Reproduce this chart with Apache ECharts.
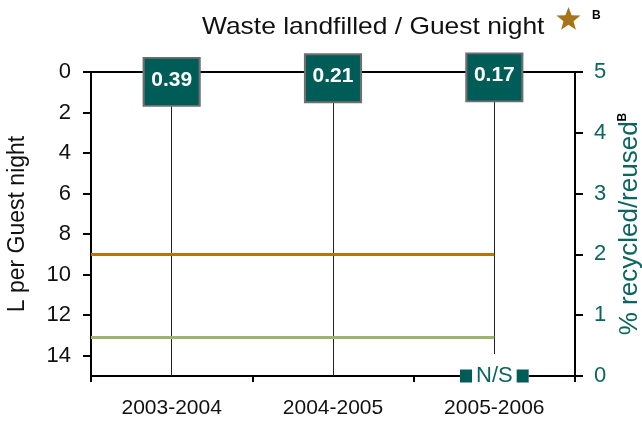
<!DOCTYPE html>
<html>
<head>
<meta charset="utf-8">
<script src="https://cdn.jsdelivr.net/npm/echarts@6/dist/echarts.min.js"></script>
<style>html,body{margin:0;padding:0;background:#fff;}#c{width:642px;height:423px;}</style>
</head>
<body>
<div id="c"></div>
<script>
// ---- data ----
const categories = ['2003-2004', '2004-2005', '2005-2006'];
const landfilled = [0.39, 0.21, 0.17];          // L per guest night
const recycled = [null, null, 0];               // % recycled/reused (N/S = not supplied)
const recycledLabels = ['', '', 'N/S'];
const benchmark = 9.0;                           // orange line
const bestPractice = 13.1;                       // green line
const leftTicks = { min: 0, max: 15, interval: 2 };
const rightTicks = { min: 0, max: 5, interval: 1 };

const teal = '#005C57';
const tealText = '#0B6560';
const FONT = 'Liberation Sans, Arial, sans-serif';

const lastCenter = categories.length - 0.5;

const chart = echarts.init(document.getElementById('c'), null, { renderer: 'canvas' });

// star polygon for the title decoration
function starPoints(cx, cy, R, r) {
  const pts = [];
  for (let i = 0; i < 10; i++) {
    const rad = (i % 2 === 0) ? R : r;
    const a = -Math.PI / 2 + i * Math.PI / 5;
    pts.push([cx + rad * Math.cos(a), cy + rad * Math.sin(a)]);
  }
  return pts;
}

const option = {
  animation: false,
  backgroundColor: '#fff',
  textStyle: { fontFamily: FONT },
  grid: { left: 91, right: 67, top: 72, bottom: 47, show: true, borderColor: '#000', borderWidth: 2, backgroundColor: 'transparent', containLabel: false, outerBoundsMode: 'none' },
  graphic: [
    { type: 'text', x: 202, y: 15, scaleX: 1.1, style: { text: 'Waste landfilled / Guest night', fontSize: 24, fontFamily: FONT, fill: '#111' } },
    { type: 'polygon', shape: { points: starPoints(568.5, 19.5, 12.6, 5.3) }, style: { fill: '#A8741A' } },
    { type: 'text', x: 592, y: 10, style: { text: 'B', fontSize: 12, fontWeight: 'bold', fontFamily: FONT, fill: '#000' } }
  ],
  xAxis: [
    {
      type: 'category', data: categories, boundaryGap: true, position: 'bottom',
      axisLine: { show: true, onZero: false, lineStyle: { color: '#000', width: 2 } },
      axisTick: { show: true, interval: 0, length: 6, lineStyle: { color: '#000', width: 2 } },
      axisLabel: { fontSize: 21, color: '#111', margin: 22, fontFamily: FONT },
      splitLine: { show: false }
    },
    { type: 'value', min: 0, max: categories.length, show: false }
  ],
  yAxis: [
    {
      type: 'value', inverse: true, position: 'left',
      min: leftTicks.min, max: leftTicks.max, interval: leftTicks.interval,
      name: 'L per Guest night', nameLocation: 'middle', nameGap: 62,
      nameTextStyle: { fontSize: 23, color: '#111', fontFamily: FONT },
      axisLine: { show: true, onZero: false, lineStyle: { color: '#000', width: 2 } },
      axisTick: { show: true, length: 8, lineStyle: { color: '#000', width: 2 } },
      axisLabel: { fontSize: 22, color: '#111', margin: 20, showMaxLabel: false, fontFamily: FONT },
      splitLine: { show: false }
    },
    {
      type: 'value', position: 'right',
      min: rightTicks.min, max: rightTicks.max, interval: rightTicks.interval,
      name: '% recycled/reused{s|B}', nameLocation: 'middle', nameGap: 40,
      nameTextStyle: {
        fontSize: 26, color: tealText, fontFamily: FONT,
        rich: { s: { fontSize: 12, fontWeight: 'bold', color: '#000', verticalAlign: 'top', fontFamily: FONT } }
      },
      axisLine: { show: true, onZero: false, lineStyle: { color: '#000', width: 2 } },
      axisTick: { show: true, length: 8, lineStyle: { color: '#000', width: 2 } },
      axisLabel: { fontSize: 22, color: tealText, margin: 19, fontFamily: FONT },
      splitLine: { show: false }
    }
  ],
  series: [
    {
      name: 'Benchmark', type: 'line', xAxisIndex: 1, yAxisIndex: 0,
      data: [[0, benchmark], [lastCenter, benchmark]],
      symbol: 'none', lineStyle: { color: '#B8730A', width: 3 }, z: 2, silent: true
    },
    {
      name: 'Best practice', type: 'line', xAxisIndex: 1, yAxisIndex: 0,
      data: [[0, bestPractice], [lastCenter, bestPractice]],
      symbol: 'none', lineStyle: { color: '#9CB46C', width: 3 }, z: 2, silent: true
    },
    {
      name: 'Waste landfilled', type: 'line', xAxisIndex: 0, yAxisIndex: 0,
      data: landfilled,
      lineStyle: { width: 0, opacity: 0 },
      symbol: 'rect', symbolSize: [56, 48], symbolOffset: [0, 2],
      itemStyle: { color: teal, borderColor: '#6F6F6F', borderWidth: 2 },
      label: { show: true, position: 'inside', offset: [0, -2], formatter: p => p.value.toFixed(2), color: '#fff', fontSize: 21, fontWeight: 'bold', fontFamily: FONT },
      markLine: {
        silent: true, symbol: ['none', 'none'], z: 1,
        label: { show: false },
        lineStyle: { color: '#222', width: 1, type: 'solid' },
        data: categories.map((c, i) => [{ coord: [c, landfilled[i]] }, { coord: [c, leftTicks.max] }])
      },
      z: 4
    },
    {
      name: '% recycled/reused', type: 'line', xAxisIndex: 0, yAxisIndex: 1,
      data: recycled, symbol: 'rect', symbolSize: 1, showSymbol: true,
      lineStyle: { width: 0, opacity: 0 },
      itemStyle: { color: '#fff', opacity: 1 },
      label: {
        show: true, position: 'inside',
        formatter: p => recycledLabels[p.dataIndex] ? '{sq|}{t|' + recycledLabels[p.dataIndex] + '}{sq|}' : '',
        backgroundColor: '#fff', padding: [11, 0, 11, 0],
        rich: {
          sq: { backgroundColor: teal, width: 12, height: 13 },
          t: { color: tealText, fontSize: 22, lineHeight: 22, fontFamily: FONT, padding: [0, 4, 0, 4] }
        }
      },
      z: 8
    }
  ]
};
chart.setOption(option);
</script>
</body>
</html>
